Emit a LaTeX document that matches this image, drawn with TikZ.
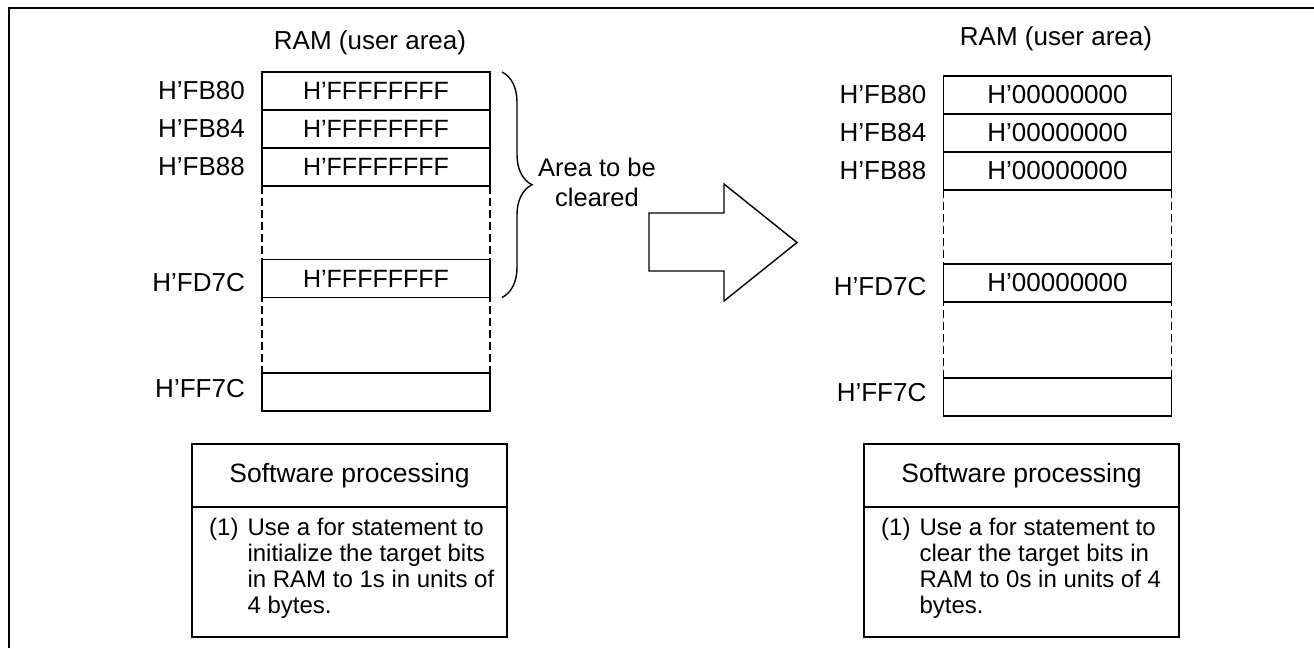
\documentclass[tikz,border=0pt]{standalone}
\usepackage{fontspec}
\setmainfont{Liberation Sans}
\usetikzlibrary{positioning,decorations.pathreplacing}
\tikzset{
  cell/.style={draw,line width=1.4pt,outer sep=0pt,inner sep=0pt,minimum width=228pt,minimum height=38pt,font=\fontsize{25}{25}\selectfont},
  addr/.style={inner sep=0pt,font=\fontsize{26}{26}\selectfont},
  gap/.style={line width=1.2pt,dash pattern=on 8pt off 4pt},
  brace/.style={decorate,decoration={brace,amplitude=30pt},line width=1.4pt},
  note/.style={align=center,inner sep=0pt,font=\fontsize{25.5}{30}\selectfont},
  swtitle/.style={draw,line width=1.4pt,outer sep=0pt,inner sep=0pt,minimum width=315pt,minimum height=63pt,font=\fontsize{26.5}{26.5}\selectfont},
  swbody/.style={draw,line width=1.4pt,outer sep=0pt,inner sep=0pt,minimum width=315pt,minimum height=130pt},
  swtext/.style={anchor=north west,inner sep=0pt,font=\fontsize{24}{26}\selectfont}
}
\begin{document}
\begin{tikzpicture}[x=1pt,y=-1pt]
\useasboundingbox (0,0) rectangle (1314,648);
\draw[line width=2.2pt] (9,648) -- (9,7.8) -- (1314,7.8);
% RAM before: all bits set
\begin{scope}[shift={(0,0)}]
\node[addr] (t1) at (370,43) {RAM (user area)};
\node[cell] (a1) at (376,91) {H’FFFFFFFF};
\node[cell,below=0pt of a1] (a2) {H’FFFFFFFF};
\node[cell,below=0pt of a2] (a3) {H’FFFFFFFF};
\node[cell] (a4) at (376,278.5) {H’FFFFFFFF};
\node[cell] (a5) at (376,392) {};
\node[addr,left=17pt of a1] (l1) {H’FB80};
\node[addr,left=17pt of a2] (l2) {H’FB84};
\node[addr,left=17pt of a3] (l3) {H’FB88};
\node[addr,left=17pt of a4,yshift=-4.5pt] (l4) {H’FD7C};
\node[addr,left=17pt of a5,yshift=3pt] (l5) {H’FF7C};
\draw[gap] (a3.south west) -- (a5.north west); \draw[gap] (a3.south east) -- (a5.north east);
\draw[brace] ([xshift=12pt]a1.north east) -- ([xshift=12pt]a4.south east);
\node[note] (n1) at (597,182) {Area to be\\cleared};
\node[swtitle] (s1) at (349.5,475.5) {Software processing};
\node[swbody,below=0pt of s1] (b1) {};
\node[swtext] (p1) at ([xshift=17pt,yshift=-10pt]b1.north west) {\begin{tabular}{@{}l@{\hspace{9pt}}l@{}}(1)&Use a for statement to\\&initialize the target bits\\&in RAM to 1s in units of\\&4 bytes.\end{tabular}};
\end{scope}
% big arrow
\draw[line width=1.4pt,line join=miter] (649,213) -- (724,213) -- (724,184) -- (797,242.5) -- (724,301) -- (724,271) -- (649,271) -- cycle;
% RAM after: cleared to 0
\begin{scope}[shift={(0,0)},cell/.append style={font=\fontsize{26}{26}\selectfont}]
\node[addr] (t2) at (1056,39) {RAM (user area)};
\node[cell] (c1) at (1057.5,95) {H’00000000};
\node[cell,below=0pt of c1] (c2) {H’00000000};
\node[cell,below=0pt of c2] (c3) {H’00000000};
\node[cell] (c4) at (1057.5,283) {H’00000000};
\node[cell] (c5) at (1057.5,397) {};
\node[addr,left=17pt of c1] (r1) {H’FB80};
\node[addr,left=17pt of c2] (r2) {H’FB84};
\node[addr,left=17pt of c3] (r3) {H’FB88};
\node[addr,left=17pt of c4,yshift=-4pt] (r4) {H’FD7C};
\node[addr,left=17pt of c5,yshift=4pt] (r5) {H’FF7C};
\draw[gap] (c3.south west) -- (c5.north west); \draw[gap] (c3.south east) -- (c5.north east);
\node[swtitle] (s2) at (1021.5,475.5) {Software processing};
\node[swbody,below=0pt of s2] (b2) {};
\node[swtext] (p2) at ([xshift=17pt,yshift=-10pt]b2.north west) {\begin{tabular}{@{}l@{\hspace{9pt}}l@{}}(1)&Use a for statement to\\&clear the target bits in\\&RAM to 0s in units of 4\\&bytes.\end{tabular}};
\end{scope}
\end{tikzpicture}
\end{document}
